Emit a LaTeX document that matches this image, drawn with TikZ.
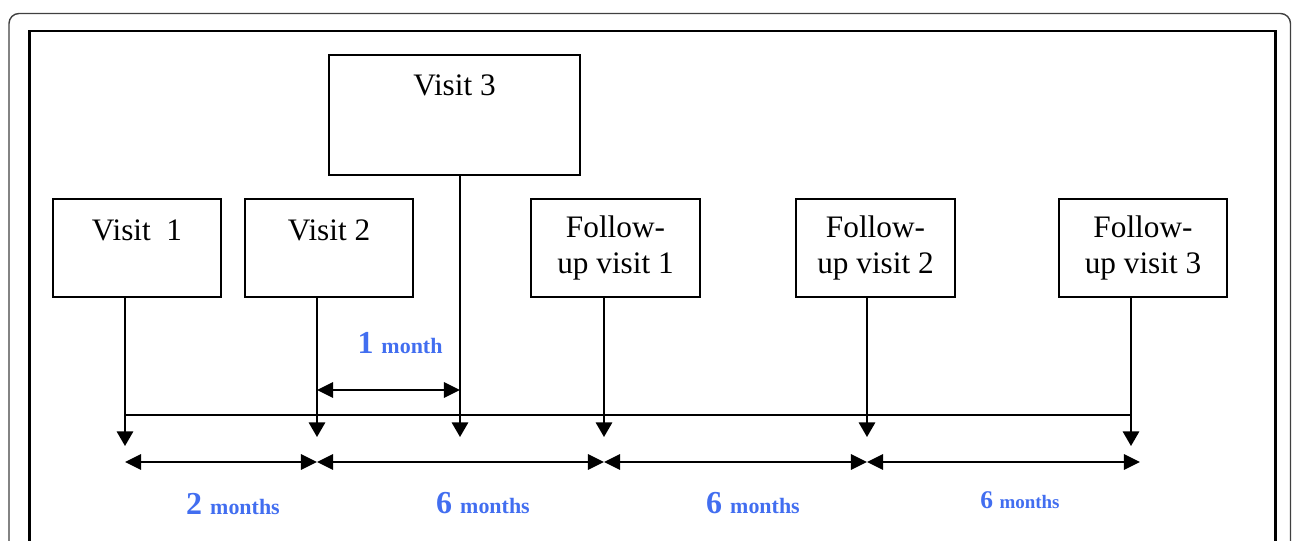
\documentclass[tikz,border=0pt]{standalone}
\usepackage{fontspec}
\setmainfont{Liberation Serif}
\usetikzlibrary{arrows.meta}
\definecolor{monthblue}{RGB}{66,110,240}

\begin{document}
\begin{tikzpicture}[x=0.02cm,y=-0.02cm,
  visit/.style={draw,line width=1.1pt,align=center,inner sep=0pt,minimum height=1.96cm,
    font=\fontsize{17.8}{20.2}\selectfont},
  tick/.style={line width=1.1pt,-{Triangle[length=8.3pt,width=9.3pt]}},
  span/.style={line width=1.1pt,{Triangle[length=9.2pt,width=8.8pt]}-{Triangle[length=9.2pt,width=8.8pt]}},
  gap/.style={text=monthblue,font=\bfseries\fontsize{18.2}{20}\selectfont}]
  \useasboundingbox (0,0) rectangle (1292,541);
  \clip (0,0) rectangle (1292,541);
  \draw[line width=0.8pt,black!75,rounded corners=0.2cm] (9,13.5) rectangle (1290.5,600);
  \draw[line width=1.7pt] (29.5,31) rectangle (1275,600);

  \node[visit,minimum width=3.36cm] (v1) at (137,248) {Visit~~1\\~};
  \node[visit,minimum width=3.36cm] (v2) at (329,248) {Visit 2\\~};
  \node[visit,minimum width=5.02cm,minimum height=2.4cm] (v3) at (454.5,115) {Visit 3\\[0.5cm]~};
  \node[visit,minimum width=3.38cm] (f1) at (615.5,248) {Follow-\\up visit 1};
  \node[visit,minimum width=3.18cm] (f2) at (875.5,248) {Follow-\\up visit 2};
  \node[visit,minimum width=3.36cm] (f3) at (1143,248) {Follow-\\up visit 3};

  \coordinate (e1) at (125,446);
  \coordinate (e2) at (317,437);
  \coordinate (e3) at (460,437);
  \coordinate (e4) at (604,437);
  \coordinate (e5) at (867,437);
  \coordinate (e6) at (1131,446);
  \draw[tick] (v1.south -| e1) -- (e1);
  \draw[tick] (v2.south -| e2) -- (e2);
  \draw[tick] (v3.south -| e3) -- (e3);
  \draw[tick] (f1.south -| e4) -- (e4);
  \draw[tick] (f2.south -| e5) -- (e5);
  \draw[tick] (f3.south -| e6) -- (e6);

  \coordinate (tl) at (125,415);
  \coordinate (tr) at (1131,415);
  \draw[line width=1.1pt] (tl) -- (tr);

  \coordinate (a1) at (317,390);
  \coordinate (a2) at (460,390);
  \draw[span] (a1) -- (a2);
  \node[gap] (m0) at (400,343) {1 {\fontsize{12.5}{14}\selectfont month}};

  \coordinate (d1) at (125,462);
  \coordinate (d2) at (317,462);
  \coordinate (d3) at (604,462);
  \coordinate (d4) at (867,462);
  \coordinate (d5) at (1140,462);
  \draw[span] (d1) -- (d2);
  \draw[span] (d2) -- (d3);
  \draw[span] (d3) -- (d4);
  \draw[span] (d4) -- (d5);
  \node[gap] (m1) at (233,504) {2 {\fontsize{12.5}{14}\selectfont months}};
  \node[gap] (m2) at (483,503) {6 {\fontsize{12.5}{14}\selectfont months}};
  \node[gap] (m3) at (753,503) {6 {\fontsize{12.5}{14}\selectfont months}};
  \node[gap,font=\bfseries\fontsize{14.5}{16}\selectfont] (m4) at (1020,500) {6 {\fontsize{10.8}{12}\selectfont months}};
\end{tikzpicture}
\end{document}
